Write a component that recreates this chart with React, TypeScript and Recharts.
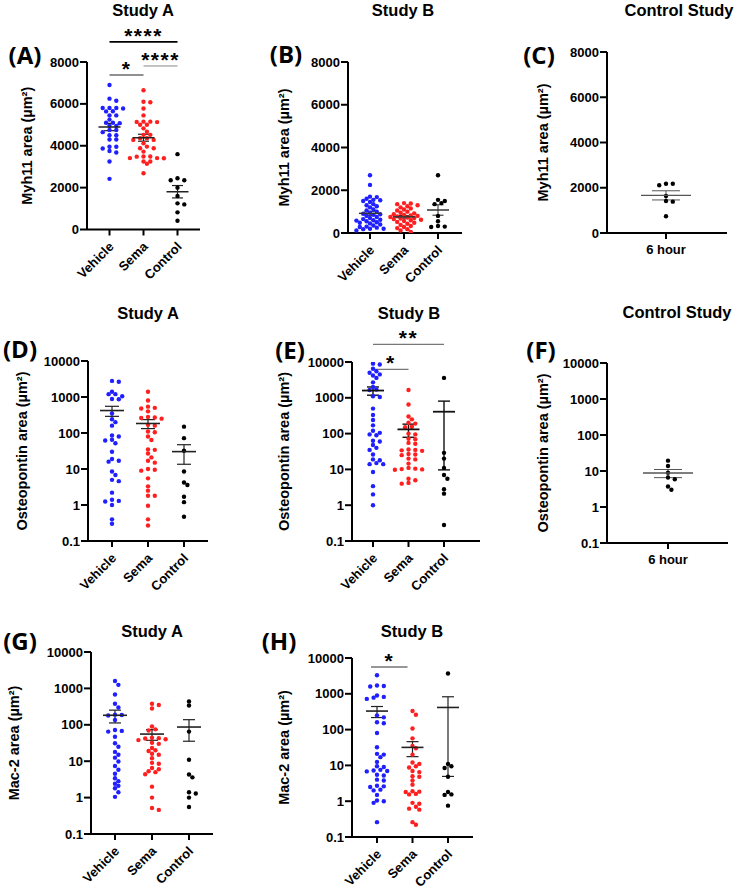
import React from "react";
import { ScatterChart, Scatter, XAxis, YAxis, ErrorBar, ReferenceLine } from "recharts";

// categories / tick labels
const studyGroups = ["Vehicle", "Sema", "Control"];
const controlGroups = ["6 hour"];
const myh11Ticks = [0, 2000, 4000, 6000, 8000];
const logTicks = [0.1, 1, 10, 100, 1000, 10000];

// (A) Myh11 area, Study A
const myh11AVehicle = [6900, 6250, 6150, 5800, 5800, 5800, 5780, 5650, 5640, 5450, 5450, 5250, 5100, 5100, 5080, 4950, 4950, 4750, 4750, 4650, 4500, 4500, 4300, 4300, 3950, 3950, 3870, 3750, 3680, 3250, 2420];
const myh11ASema = [6650, 6100, 6080, 5780, 5450, 5150, 5150, 5140, 5130, 5000, 5000, 4830, 4670, 4520, 4520, 4360, 4360, 4280, 4280, 4120, 3960, 3880, 3880, 3720, 3490, 3490, 3480, 3410, 3410, 3400, 3250, 3250, 3140, 2690];
const myh11AControl = [3600, 2450, 2350, 2350, 2000, 1600, 1250, 1200, 820, 420];

// (B) Myh11 area, Study B
const myh11BVehicle = [2700, 2250, 1700, 1680, 1600, 1550, 1530, 1500, 1450, 1350, 1300, 1250, 1200, 1100, 1050, 1000, 950, 900, 880, 850, 800, 750, 700, 650, 620, 600, 580, 550, 500, 480, 450, 400, 350, 300, 280, 250, 200, 200, 180, 120];
const myh11BSema = [1400, 1380, 1350, 1300, 1250, 1200, 1150, 1100, 1050, 1000, 950, 920, 880, 850, 820, 800, 780, 750, 720, 700, 680, 650, 620, 600, 560, 520, 480, 430, 380, 330, 280, 230, 180, 120, 50];
const myh11BControl = [2700, 1550, 1500, 1400, 1350, 800, 550, 330, 300, 280];

// (C) Myh11 area, Control Study
const myh11CSixHour = [2180, 2180, 2110, 1635, 1415, 1385, 740];

// (D) Osteopontin area, Study A
const opnAVehicle = [2800, 2650, 1400, 1200, 1200, 1050, 880, 870, 350, 240, 200, 160, 85, 80, 65, 62, 52, 30, 19, 17, 16, 8.5, 6.8, 5, 4.6, 2.2, 1.4, 1.3, 1.25, 1.0, 0.4, 0.3];
const opnASema = [1400, 800, 540, 500, 480, 400, 280, 270, 260, 250, 170, 160, 110, 105, 80, 64, 35, 34, 27, 21, 17, 15, 10, 9.5, 9, 5.5, 3.3, 2.5, 1.8, 1.8, 0.95, 0.4, 0.27];
const opnAControl = [150, 72, 32, 8.5, 4.2, 3.6, 1.7, 1.2, 0.47];

// (E) Osteopontin area, Study B
const opnBVehicle = [9000, 8500, 6500, 5500, 5000, 4500, 4200, 3600, 2700, 2000, 1700, 1650, 1100, 1050, 500, 330, 240, 170, 120, 105, 95, 90, 63, 60, 48, 40, 35, 26, 19, 18, 15, 14, 14, 8.5, 3.4, 2.0, 1.0];
const opnBSema = [1650, 650, 300, 250, 200, 190, 155, 150, 100, 95, 72, 70, 55, 52, 36, 35, 34, 33, 27, 26, 25, 20, 19, 14.5, 11, 10.5, 10.2, 10, 9.8, 5.5, 5, 4.2, 4.0];
const opnBControl = [3600, 29, 20, 11, 7, 5.5, 2.8, 2.1, 0.28];

// (F) Osteopontin area, Control Study
const opnCSixHour = [19.4, 13.8, 9.0, 6.6, 5.9, 3.7, 3.0];

// (G) Mac-2 area, Study A
const mac2AVehicle = [1600, 1250, 680, 380, 300, 190, 185, 180, 135, 72, 68, 65, 47, 31, 25, 18, 15, 12.5, 9.8, 7.4, 5.8, 4.5, 3.4, 2.8, 2.4, 2.1, 1.8, 1.4, 1.05];
const mac2ASema = [380, 350, 280, 90, 75, 70, 44, 43, 42, 40, 38, 32, 30, 23, 20, 19, 16, 15, 12, 9, 8.5, 6.5, 6, 5.3, 5, 4.4, 2.0, 1.0, 0.52, 0.46];
const mac2AControl = [440, 340, 65, 11, 4.3, 3.6, 1.4, 1.3, 1.0, 0.55];

// (H) Mac-2 area, Study B
const mac2BVehicle = [3300, 1700, 1650, 1600, 900, 820, 780, 720, 250, 220, 160, 150, 80, 32, 21, 20, 17, 12.5, 9.5, 9, 7.5, 7.2, 7, 6.8, 5.5, 5.2, 4, 3.8, 2.7, 2.6, 2.5, 2.1, 2.0, 1.5, 1.05, 1.0, 0.9, 0.26];
const mac2BSema = [330, 260, 107, 57, 35, 30, 20, 12, 11, 9.5, 8.7, 7, 6.5, 5, 4.8, 3.8, 2.9, 1.9, 1.85, 1.8, 1.6, 1.55, 0.9, 0.85, 0.7, 0.62, 0.58, 0.26, 0.22];
const mac2BControl = [3700, 11, 9.5, 8.5, 4.8, 1.8, 1.55, 1.5, 0.75];

const BLUE = "#1f1fff";
const RED = "#ff1f1f";
const BLACK = "#000";
const FONT = "'Liberation Sans', Arial, sans-serif";

type Sig = { from: number; to: number; y: number; text: string; stroke: string; width: number };

type PanelDef = {
  id: string;
  left: number;
  top: number;
  width: number;
  height: number;
  x0: number;
  x1: number;
  yTop: number;
  yBot: number;
  tickPx: number[];
  log: boolean;
  categories: string[];
  series: number[][];
  colors: string[];
  yLabel: string;
  yLabelX: number;
  meanHalf: number;
  capHalf: number;
  meanStroke: string;
  meanWidth: number;
  sigs: Sig[];
};

// spread dots sideways where they would overlap (pixel space, layout only)
function swarm(py: number[], dist: number, step: number): number[] {
  const order = py.map((_, i) => i).sort((a, b) => py[a] - py[b]);
  const placed: { x: number; y: number }[] = [];
  const out = py.map(() => 0);
  for (const i of order) {
    const y = py[i];
    let chosen = 0;
    for (let k = 0; k < 60; k++) {
      const cands = k === 0 ? [0] : [k * step, -k * step];
      const hit = cands.find((c) => placed.every((p) => Math.hypot(p.x - c, p.y - y) >= dist));
      if (hit !== undefined) {
        chosen = hit;
        break;
      }
    }
    placed.push({ x: chosen, y });
    out[i] = chosen;
  }
  return out;
}

function meanSem(v: number[]) {
  const n = v.length;
  const m = v.reduce((s, a) => s + a, 0) / n;
  const sd = Math.sqrt(v.reduce((s, a) => s + (a - m) * (a - m), 0) / (n - 1));
  return { m, sem: sd / Math.sqrt(n) };
}

function Panel({ p }: { p: PanelDef }) {
  const n = p.categories.length;
  let dMin = 0;
  let dMax = 2;
  if (n > 1) {
    const s = (p.tickPx[n - 1] - p.tickPx[0]) / (n - 1);
    dMin = 1 - (p.tickPx[0] - p.x0) / s;
    dMax = n + (p.x1 - p.tickPx[n - 1]) / s;
  } else {
    const s = p.tickPx[0] - p.x0;
    dMax = (p.x1 - p.x0) / s;
  }
  const ppu = (p.x1 - p.x0) / (dMax - dMin);
  const h = p.yBot - p.yTop;
  const toPx = (v: number) =>
    p.log ? p.yBot - ((Math.log10(v) + 1) / 5) * h : p.yBot - (v / 8000) * h;

  const groups = p.series.map((vals, gi) => {
    const offs = swarm(vals.map(toPx), 4.0, 3.4);
    return vals.map((v, i) => ({ x: gi + 1 + offs[i] / ppu, y: v }));
  });
  const means = p.series.map((vals, gi) => {
    const { m, sem } = meanSem(vals);
    return { x: gi + 1, y: m, err: sem };
  });

  const plotTop = p.yTop - p.top;
  const xh = p.height - (p.yBot - p.top);
  const yw = p.x0 - p.left;
  const mr = p.left + p.width - p.x1;
  const textStyle = { fontFamily: FONT, fontWeight: 700, fill: "#000" };

  const xTick = (props: any) => {
    const { x, y, payload } = props;
    const label = p.categories[Math.round(payload.value) - 1];
    if (n === 1) {
      return (
        <text x={x} y={y + 14} textAnchor="middle" fontSize={13} {...textStyle}>
          {label}
        </text>
      );
    }
    return (
      <g transform={`translate(${x + 5},${y + 11})`}>
        <text transform="rotate(-45)" textAnchor="end" fontSize={13} {...textStyle}>
          {label}
        </text>
      </g>
    );
  };

  const yLabel = () => {
    const cx = p.yLabelX - p.left;
    const cy = (p.yTop + p.yBot) / 2 - p.top;
    return (
      <text
        x={cx}
        y={cy}
        transform={`rotate(-90, ${cx}, ${cy})`}
        textAnchor="middle"
        dominantBaseline="central"
        fontSize={14.5}
        {...textStyle}
      >
        {p.yLabel}
      </text>
    );
  };

  const meanShape = (props: any) => (
    <line
      x1={props.cx - p.meanHalf}
      x2={props.cx + p.meanHalf}
      y1={props.cy}
      y2={props.cy}
      stroke={p.meanStroke}
      strokeWidth={p.meanWidth + 0.4}
    />
  );

  return (
    <div style={{ position: "absolute", left: p.left, top: p.top }}>
      <ScatterChart width={p.width} height={p.height} margin={{ top: plotTop, right: mr, bottom: 0, left: 0 }}>
        <XAxis
          type="number"
          dataKey="x"
          domain={[dMin, dMax]}
          ticks={p.categories.map((_, i) => i + 1)}
          interval={0}
          allowDataOverflow
          height={xh}
          tick={xTick}
          tickSize={6}
          tickMargin={1}
          axisLine={{ stroke: "#000", strokeWidth: 2 }}
          tickLine={{ stroke: "#000", strokeWidth: 2 }}
        />
        <YAxis
          type="number"
          dataKey="y"
          width={yw}
          scale={p.log ? "log" : "linear"}
          domain={p.log ? [0.1, 10000] : [0, 8000]}
          ticks={p.log ? logTicks : myh11Ticks}
          interval={0}
          allowDataOverflow
          tick={{ fontSize: 13, fontFamily: FONT, fontWeight: 700, fill: "#000" }}
          tickSize={7}
          tickMargin={1}
          axisLine={{ stroke: "#000", strokeWidth: 2 }}
          tickLine={{ stroke: "#000", strokeWidth: 2 }}
          label={yLabel}
        />
        {groups.map((g, gi) => (
          <Scatter
            key={p.categories[gi]}
            data={g}
            isAnimationActive={false}
            shape={(props: any) => <circle cx={props.cx} cy={props.cy} r={2.2} fill={p.colors[gi]} />}
          />
        ))}
        <Scatter data={means} isAnimationActive={false} shape={meanShape}>
          <ErrorBar
            dataKey="err"
            direction="y"
            width={p.capHalf}
            stroke={p.meanStroke}
            strokeWidth={p.meanWidth}
            isAnimationActive={false}
          />
        </Scatter>
        {p.sigs.map((s, i) => (
          <ReferenceLine
            key={i}
            segment={[
              { x: s.from, y: s.y },
              { x: s.to, y: s.y },
            ]}
            ifOverflow="visible"
            stroke={s.stroke}
            strokeWidth={s.width}
            label={(lp: any) => {
              const vb = lp.viewBox || {};
              return (
                <text
                  x={vb.x + vb.width / 2}
                  y={vb.y + 1}
                  textAnchor="middle"
                  fontSize={21}
                  letterSpacing={1.5}
                  {...textStyle}
                >
                  {s.text}
                </text>
              );
            }}
          />
        ))}
      </ScatterChart>
    </div>
  );
}

const panels: PanelDef[] = [
  {
    id: "A", left: 0, top: 0, width: 206, height: 290, x0: 87, x1: 200, yTop: 62, yBot: 229.5,
    tickPx: [109.5, 143.5, 177.5], log: false, categories: studyGroups,
    series: [myh11AVehicle, myh11ASema, myh11AControl], colors: [BLUE, RED, BLACK],
    yLabel: "Myh11 area (µm²)", yLabelX: 27, meanHalf: 11, capHalf: 5.5, meanStroke: "#222", meanWidth: 1.2,
    sigs: [
      { from: 1, to: 3, y: 8960, text: "****", stroke: "#000", width: 1.6 },
      { from: 1, to: 2, y: 7380, text: "*", stroke: "#222", width: 1.2 },
      { from: 2, to: 3, y: 7810, text: "****", stroke: "#888", width: 1 },
    ],
  },
  {
    id: "B", left: 250, top: 0, width: 218, height: 290, x0: 348, x1: 462, yTop: 62, yBot: 233,
    tickPx: [370, 404, 438], log: false, categories: studyGroups,
    series: [myh11BVehicle, myh11BSema, myh11BControl], colors: [BLUE, RED, BLACK],
    yLabel: "Myh11 area (µm²)", yLabelX: 284, meanHalf: 11, capHalf: 5.5, meanStroke: "#333", meanWidth: 1.1, sigs: [],
  },
  {
    id: "C", left: 490, top: 0, width: 245, height: 290, x0: 607, x1: 727, yTop: 52, yBot: 233,
    tickPx: [666], log: false, categories: controlGroups,
    series: [myh11CSixHour], colors: [BLACK],
    yLabel: "Myh11 area (µm²)", yLabelX: 543, meanHalf: 25, capHalf: 14, meanStroke: "#555", meanWidth: 1, sigs: [],
  },
  {
    id: "D", left: 0, top: 290, width: 214, height: 310, x0: 88, x1: 208, yTop: 361, yBot: 541,
    tickPx: [112, 148, 184], log: true, categories: studyGroups,
    series: [opnAVehicle, opnASema, opnAControl], colors: [BLUE, RED, BLACK],
    yLabel: "Osteopontin area (µm²)", yLabelX: 22, meanHalf: 12, capHalf: 7, meanStroke: "#222", meanWidth: 1.2, sigs: [],
  },
  {
    id: "E", left: 250, top: 290, width: 236, height: 310, x0: 352, x1: 480, yTop: 362, yBot: 541,
    tickPx: [373, 409, 444], log: true, categories: studyGroups,
    series: [opnBVehicle, opnBSema, opnBControl], colors: [BLUE, RED, BLACK],
    yLabel: "Osteopontin area (µm²)", yLabelX: 284, meanHalf: 11, capHalf: 6, meanStroke: "#111", meanWidth: 1.4,
    sigs: [
      { from: 1, to: 3, y: 31200, text: "**", stroke: "#555", width: 1 },
      { from: 1, to: 2, y: 6250, text: "*", stroke: "#555", width: 1 },
    ],
  },
  {
    id: "F", left: 490, top: 290, width: 246, height: 310, x0: 607, x1: 728, yTop: 363, yBot: 543,
    tickPx: [668], log: true, categories: controlGroups,
    series: [opnCSixHour], colors: [BLACK],
    yLabel: "Osteopontin area (µm²)", yLabelX: 543, meanHalf: 25, capHalf: 14, meanStroke: "#555", meanWidth: 1, sigs: [],
  },
  {
    id: "G", left: 0, top: 600, width: 219, height: 292, x0: 91, x1: 213, yTop: 652, yBot: 834,
    tickPx: [115, 152, 189], log: true, categories: studyGroups,
    series: [mac2AVehicle, mac2ASema, mac2AControl], colors: [BLUE, RED, BLACK],
    yLabel: "Mac-2 area (µm²)", yLabelX: 14, meanHalf: 12, capHalf: 6, meanStroke: "#222", meanWidth: 1.2, sigs: [],
  },
  {
    id: "H", left: 250, top: 600, width: 229, height: 292, x0: 352, x1: 473, yTop: 658, yBot: 837,
    tickPx: [377, 412, 448], log: true, categories: studyGroups,
    series: [mac2BVehicle, mac2BSema, mac2BControl], colors: [BLUE, RED, BLACK],
    yLabel: "Mac-2 area (µm²)", yLabelX: 284, meanHalf: 11, capHalf: 6, meanStroke: "#222", meanWidth: 1.2,
    sigs: [{ from: 0.83, to: 1.86, y: 5610, text: "*", stroke: "#333", width: 1.2 }],
  },
];

const titles = [
  { text: "Study A", x: 143, y: 10 },
  { text: "Study B", x: 403, y: 10 },
  { text: "Control Study", x: 679, y: 10 },
  { text: "Study A", x: 148, y: 313 },
  { text: "Study B", x: 409, y: 313 },
  { text: "Control Study", x: 677, y: 312 },
  { text: "Study A", x: 152, y: 631 },
  { text: "Study B", x: 412, y: 631 },
];

const letters = [
  { text: "(A)", x: 25, y: 55 },
  { text: "(B)", x: 286, y: 54 },
  { text: "(C)", x: 539, y: 55 },
  { text: "(D)", x: 20, y: 349 },
  { text: "(E)", x: 290, y: 350 },
  { text: "(F)", x: 541, y: 350 },
  { text: "(G)", x: 20, y: 641 },
  { text: "(H)", x: 279, y: 641 },
];

export default function App() {
  return (
    <div style={{ position: "absolute", left: 0, top: 0, width: 740, height: 892, background: "#fff", overflow: "hidden" }}>
      {panels.map((p) => (
        <Panel key={p.id} p={p} />
      ))}
      {titles.map((t, i) => (
        <div
          key={"t" + i}
          style={{
            position: "absolute", left: t.x, top: t.y, transform: "translate(-50%, -50%)",
            fontFamily: FONT, fontWeight: 700, fontSize: 16.5, whiteSpace: "nowrap", lineHeight: 1,
          }}
        >
          {t.text}
        </div>
      ))}
      {letters.map((t, i) => (
        <div
          key={"l" + i}
          style={{
            position: "absolute", left: t.x, top: t.y, transform: "translate(-50%, -50%)",
            fontFamily: "'Open Sans', 'Noto Sans', sans-serif", fontWeight: 700, fontSize: 24,
            whiteSpace: "nowrap", lineHeight: 1,
          }}
        >
          {t.text}
        </div>
      ))}
    </div>
  );
}
